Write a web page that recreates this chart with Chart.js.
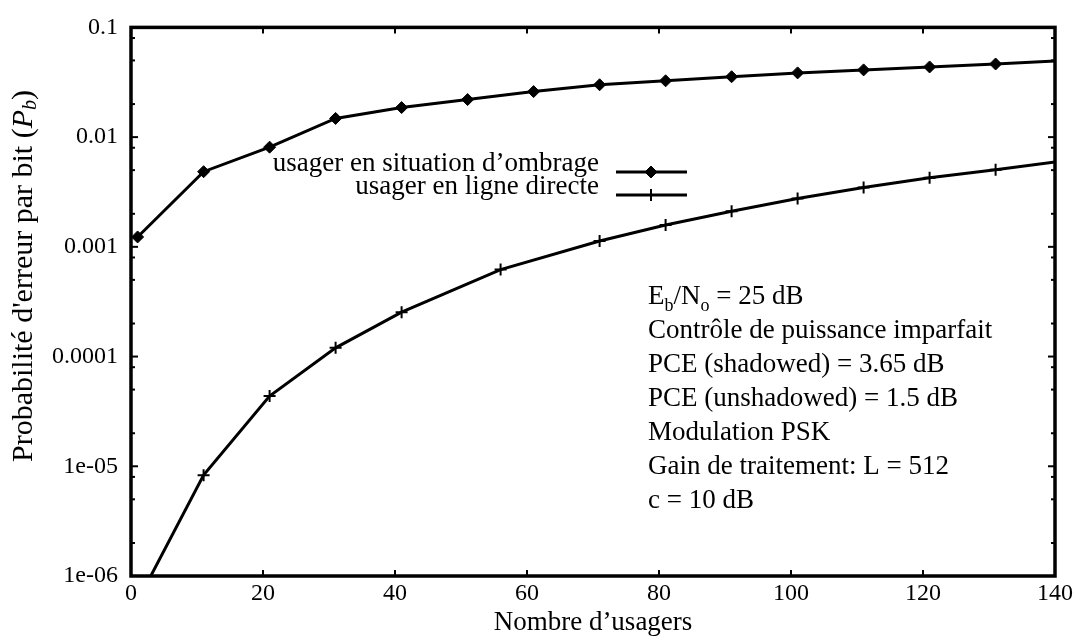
<!DOCTYPE html>
<html>
<head>
<meta charset="utf-8">
<script src="https://cdn.jsdelivr.net/npm/chart.js@4/dist/chart.umd.min.js"></script>
<style>
  html, body { margin: 0; padding: 0; background: #fff; }
  #wrap { width: 1076px; height: 639px; position: relative; }
</style>
</head>
<body>
<div id="wrap"><canvas id="chart" width="1076" height="639"></canvas></div>
<script>
// values
const shadowedUsers = [1, 11, 21, 31, 41, 51, 61, 71, 81, 91, 101, 111, 121, 131, 141];
const shadowedPb = [0.00123, 0.00484, 0.0081, 0.0148, 0.0186, 0.022, 0.026, 0.030, 0.0326, 0.0355, 0.0385, 0.041, 0.0436, 0.0464, 0.0497];

const directUsers = [1, 11, 21, 31, 41, 56, 71, 81, 91, 101, 111, 121, 131, 141];
const directPb = [5.9e-7, 8.3e-6, 4.37e-5, 1.2e-4, 2.54e-4, 6.2e-4, 1.13e-3, 1.58e-3, 2.11e-3, 2.76e-3, 3.47e-3, 4.27e-3, 5.04e-3, 6.05e-3];

const seriesLabels = ['usager en situation d\u2019ombrage', 'usager en ligne directe'];

const xTicks = [0, 20, 40, 60, 80, 100, 120, 140];
const yDecades = [1e-6, 1e-5, 1e-4, 1e-3, 1e-2, 1e-1];
const yDecadeLabels = ['1e-06', '1e-05', '0.0001', '0.001', '0.01', '0.1'];
const yMinorMantissas = [2, 5, 8];

const xTitle = 'Nombre d\u2019usagers';
const yTitleParts = ['Probabilit\u00e9 d\'erreur par bit (', 'P', 'b', ')'];
// "_" marks a one-letter subscript
const notes = [
    'E_b/N_o = 25 dB',
    'Contr\u00f4le de puissance imparfait',
    'PCE (shadowed) = 3.65 dB',
    'PCE (unshadowed) = 1.5 dB',
    'Modulation PSK',
    'Gain de traitement: L = 512',
    'c = 10 dB'
];

const FONT = '"Liberation Serif", "Times New Roman", serif';
const TEXT_SIZE = 27;

function toPoints(xs, ys) {
    return xs.map((x, i) => ({ x: x, y: ys[i] }));
}

function mantissa(v) {
    const e = Math.floor(Math.log10(v) + 1e-9);
    return Math.round(v / Math.pow(10, e));
}

function line(ctx, x1, y1, x2, y2) {
    ctx.beginPath();
    ctx.moveTo(x1, y1);
    ctx.lineTo(x2, y2);
    ctx.stroke();
}

// text with "_x" subscripts
function drawRich(ctx, text, x, y, size) {
    let cx = x;
    for (let i = 0; i < text.length; i++) {
        if (text[i] === '_' && i + 1 < text.length) {
            ctx.font = Math.round(size * 0.68) + 'px ' + FONT;
            ctx.fillText(text[i + 1], cx, y + size * 0.25);
            cx += ctx.measureText(text[i + 1]).width;
            i++;
        } else {
            ctx.font = size + 'px ' + FONT;
            ctx.fillText(text[i], cx, y);
            cx += ctx.measureText(text[i]).width;
        }
    }
}

const framePlugin = {
    id: 'frame',
    afterDatasetsDraw(chart) {
        const ctx = chart.ctx;
        const { left, right, top, bottom } = chart.chartArea;
        const xs = chart.scales.x;
        const ys = chart.scales.y;
        ctx.save();
        ctx.strokeStyle = '#000';
        ctx.lineWidth = 2;
        xs.ticks.forEach(t => {
            const x = xs.getPixelForValue(t.value);
            line(ctx, x, bottom, x, bottom - 6);
            line(ctx, x, top, x, top + 6);
        });
        ys.ticks.forEach(t => {
            const y = ys.getPixelForValue(t.value);
            const len = mantissa(t.value) === 1 ? 7 : 4;
            line(ctx, left, y, left + len, y);
            line(ctx, right, y, right - len, y);
        });
        ctx.lineWidth = 3.5;
        ctx.strokeRect(left, top, right - left, bottom - top);
        ctx.restore();
    },
    afterDraw(chart) {
        const ctx = chart.ctx;
        ctx.save();
        ctx.fillStyle = '#000';
        ctx.strokeStyle = '#000';

        // y axis title, rotated, with italic P and subscript b
        const size = 30;
        ctx.translate(24, 276);
        ctx.rotate(-Math.PI / 2);
        ctx.textBaseline = 'middle';
        const fonts = [size + 'px ' + FONT, 'italic ' + size + 'px ' + FONT, 'italic 20px ' + FONT, size + 'px ' + FONT];
        const offs = [0, 0, 7, 0];
        let total = 0;
        yTitleParts.forEach((p, i) => { ctx.font = fonts[i]; total += ctx.measureText(p).width; });
        let cx = -total / 2;
        yTitleParts.forEach((p, i) => {
            ctx.font = fonts[i];
            ctx.fillText(p, cx, offs[i]);
            cx += ctx.measureText(p).width;
        });
        ctx.setTransform(1, 0, 0, 1, 0, 0);

        // legend inside the plot
        ctx.textBaseline = 'alphabetic';
        ctx.textAlign = 'right';
        chart.data.datasets.forEach((ds, i) => {
            const ty = 171 + i * 23;
            ctx.font = TEXT_SIZE + 'px ' + FONT;
            ctx.fillText(ds.label, 599, ty);
            const ly = ty + 1;
            ctx.lineWidth = ds.borderWidth;
            line(ctx, 616, ly, 687, ly);
            ctx.lineWidth = ds.pointBorderWidth;
            Chart.helpers.drawPoint(ctx, {
                pointStyle: ds.pointStyle,
                radius: ds.pointRadius,
                rotation: 0,
                borderWidth: ds.pointBorderWidth
            }, 651, ly);
        });

        // parameter block
        ctx.textAlign = 'left';
        notes.forEach((n, i) => drawRich(ctx, n, 648, 304 + i * 34, TEXT_SIZE));
        ctx.restore();
    }
};

new Chart(document.getElementById('chart'), {
    type: 'line',
    data: {
        datasets: [
            {
                label: seriesLabels[0],
                data: toPoints(shadowedUsers, shadowedPb),
                borderColor: '#000',
                backgroundColor: '#000',
                borderWidth: 3,
                pointStyle: 'rectRot',
                pointRadius: 6,
                pointBorderWidth: 1,
                pointBackgroundColor: '#000',
                pointBorderColor: '#000',
                tension: 0
            },
            {
                label: seriesLabels[1],
                data: toPoints(directUsers, directPb),
                borderColor: '#000',
                backgroundColor: '#000',
                borderWidth: 3,
                pointStyle: 'cross',
                pointRadius: 6,
                pointBorderWidth: 2,
                pointBackgroundColor: '#000',
                pointBorderColor: '#000',
                tension: 0
            }
        ]
    },
    options: {
        responsive: false,
        animation: false,
        devicePixelRatio: 1,
        layout: { padding: { top: 21, right: 20, left: 0, bottom: 0 } },
        plugins: {
            legend: { display: false },
            tooltip: { enabled: false }
        },
        scales: {
            x: {
                type: 'linear',
                min: 0,
                max: 140,
                afterBuildTicks: s => { s.ticks = xTicks.map(v => ({ value: v })); },
                afterFit: s => { s.height = 63; },
                grid: { display: false, drawTicks: false },
                border: { display: false },
                ticks: {
                    color: '#000',
                    padding: 3,
                    maxRotation: 0,
                    font: { family: FONT, size: 24 }
                },
                title: {
                    display: true,
                    text: xTitle,
                    color: '#000',
                    padding: { top: 0, bottom: 0 },
                    font: { family: FONT, size: TEXT_SIZE }
                }
            },
            y: {
                type: 'logarithmic',
                min: 1e-6,
                max: 0.1,
                afterBuildTicks: s => {
                    const t = [];
                    yDecades.forEach((d, i) => {
                        t.push({ value: d });
                        if (i < yDecades.length - 1) {
                            yMinorMantissas.forEach(m => t.push({ value: m * d }));
                        }
                    });
                    s.ticks = t;
                },
                afterFit: s => { s.width = 131; },
                grid: { display: false, drawTicks: false },
                border: { display: false },
                ticks: {
                    color: '#000',
                    padding: 13,
                    autoSkip: false,
                    font: { family: FONT, size: 24 },
                    callback: v => {
                        const i = yDecades.findIndex(d => Math.abs(v / d - 1) < 1e-6);
                        return i >= 0 ? yDecadeLabels[i] : '';
                    }
                }
            }
        }
    },
    plugins: [framePlugin]
});
</script>
</body>
</html>
